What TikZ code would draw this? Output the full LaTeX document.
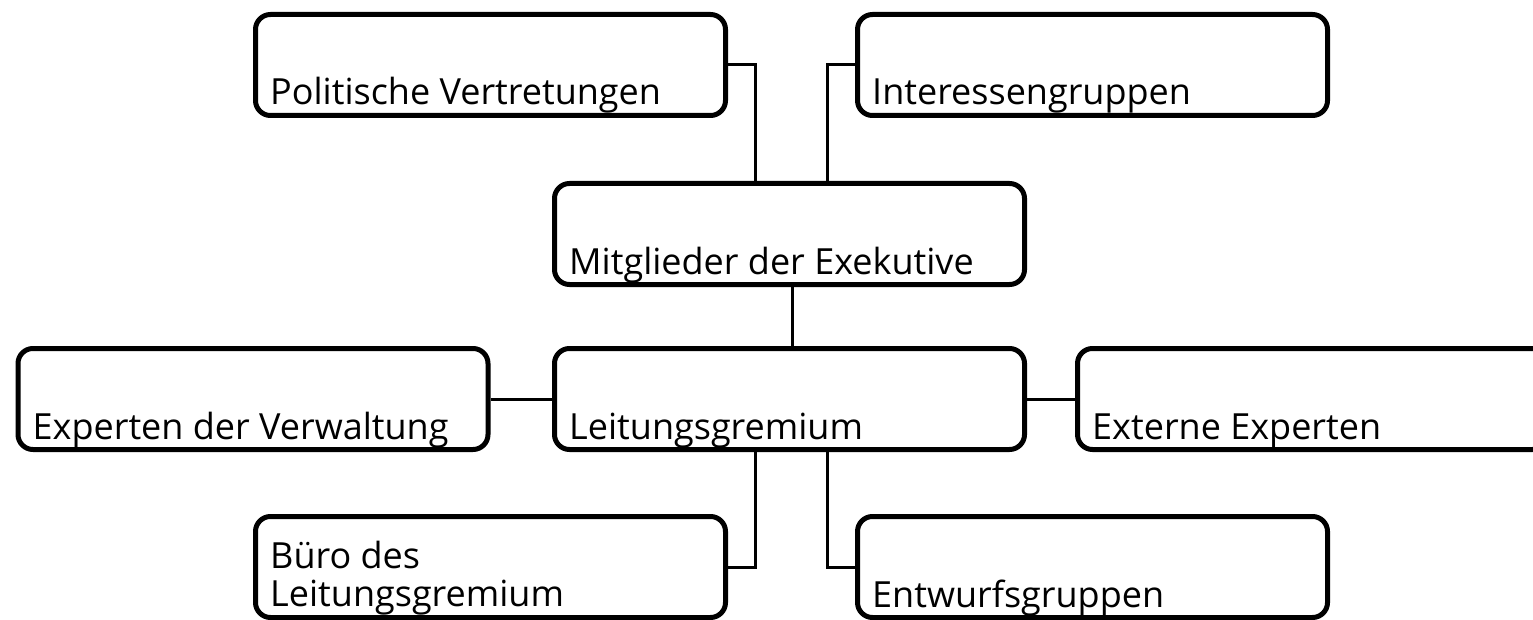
\documentclass[tikz,border=0pt]{standalone}
\usepackage{fontspec}
\setmainfont{Open Sans}
\begin{document}
\begin{tikzpicture}[x=1pt,y=-1pt,
  box/.style={draw, line width=5pt, rounded corners=15pt, minimum width=470pt, minimum height=101pt, inner sep=0pt},
  lbl/.style={anchor=base west, inner sep=0pt, font=\fontsize{36}{38}\selectfont, align=left},
  link/.style={line width=3pt}]
\useasboundingbox (0,0) rectangle (1533,620);
\clip (0,0) rectangle (1533,620);
% boxes
\node[box] (pol) at (490.5,65) {};
\node[box] (int) at (1092.5,65) {};
\node[box] (mit) at (789.5,234) {};
\node[box] (exp) at (253,399) {};
\node[box] (lei) at (789.5,399) {};
\node[box] (ext) at (1312.5,399) {};
\node[box] (bur) at (490.5,567) {};
\node[box] (ent) at (1092.5,567) {};
% labels, set on the lower edge of each box
\node[lbl] at ([xshift=17pt,yshift=13pt]pol.south west) {Politische Vertretungen};
\node[lbl] at ([xshift=17pt,yshift=13pt]int.south west) {Interessengruppen};
\node[lbl] at ([xshift=17pt,yshift=13pt]mit.south west) {Mitglieder der Exekutive};
\node[lbl] at ([xshift=17pt,yshift=13pt]exp.south west) {Experten der Verwaltung};
\node[lbl] at ([xshift=17pt,yshift=13pt]lei.south west) {Leitungsgremium};
\node[lbl] at ([xshift=17pt,yshift=13pt]ext.south west) {Externe Experten};
\node[lbl] at ([xshift=17pt,yshift=14pt]bur.south west) {Büro des\\Leitungsgremium};
\node[lbl] at ([xshift=17pt,yshift=13pt]ent.south west) {Entwurfsgruppen};
% connectors
\draw[link] (pol.east) -| ([xshift=-34.5pt]mit.north);
\draw[link] (int.west) -| ([xshift=37.5pt]mit.north);
\draw[link] ([xshift=2.5pt]mit.south) -- ([xshift=2.5pt]lei.north);
\draw[link] (exp.east) -- (lei.west);
\draw[link] (lei.east) -- (ext.west);
\draw[link] ([xshift=-34.5pt]lei.south) |- (bur.east);
\draw[link] ([xshift=37.5pt]lei.south) |- (ent.west);
\end{tikzpicture}
\end{document}
